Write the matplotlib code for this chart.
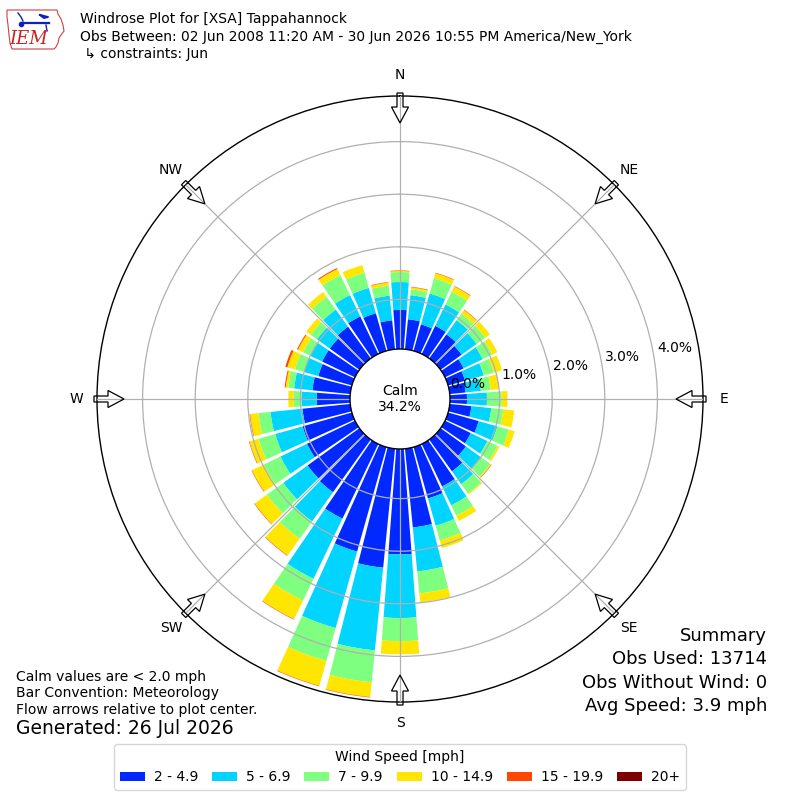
import numpy as np
import matplotlib
matplotlib.use("Agg")
import matplotlib.pyplot as plt
from matplotlib.patches import Circle, FancyArrow, Patch, Polygon

# ---------------- data ----------------
directions = np.arange(0, 360, 10)  # degrees, direction wind blows FROM
speed_labels = ["2 - 4.9", "5 - 6.9", "7 - 9.9", "10 - 14.9", "15 - 19.9", "20+"]
speed_colors = ["#0028ff", "#00d4ff", "#7fff7f", "#ffe600", "#ff4700", "#7f0000"]

# percent of observations per 10 degree bin, one list per speed class
pct_2_5 = [0.80, 0.63, 0.58, 0.65, 0.62, 0.55, 0.45, 0.39, 0.36, 0.38, 0.47, 0.66,
           0.60, 0.65, 0.80, 0.95, 1.07, 1.56, 2.06, 2.33, 2.12, 1.63, 1.29, 1.27,
           1.07, 1.03, 0.97, 0.69, 0.78, 0.72, 0.75, 0.75, 0.80, 0.85, 0.80, 0.61]
pct_5_7 = [0.53, 0.46, 0.61, 0.45, 0.33, 0.35, 0.40, 0.37, 0.29, 0.38, 0.38, 0.37,
           0.35, 0.35, 0.30, 0.40, 0.54, 0.84, 1.21, 1.58, 1.51, 1.27, 0.68, 0.57,
           0.56, 0.54, 0.61, 0.29, 0.35, 0.28, 0.25, 0.30, 0.40, 0.45, 0.50, 0.47]
pct_7_10 = [0.19, 0.11, 0.30, 0.27, 0.15, 0.20, 0.20, 0.20, 0.19, 0.28, 0.23, 0.23,
            0.21, 0.22, 0.22, 0.22, 0.29, 0.42, 0.44, 0.61, 0.65, 0.46, 0.41, 0.38,
            0.35, 0.33, 0.23, 0.15, 0.11, 0.18, 0.15, 0.15, 0.30, 0.42, 0.30, 0.19]
pct_10_15 = [0.02, 0.04, 0.10, 0.11, 0.09, 0.11, 0.11, 0.16, 0.16, 0.11, 0.21, 0.11,
             0.04, 0.02, 0.02, 0.11, 0.15, 0.17, 0.25, 0.28, 0.49, 0.39, 0.39, 0.29,
             0.25, 0.18, 0.16, 0.10, 0.05, 0.15, 0.11, 0.10, 0.11, 0.13, 0.15, 0.06]
pct_15_20 = [0.01, 0.01, 0.01, 0.01, 0.01, 0.00, 0.00, 0.00, 0.00, 0.00, 0.00, 0.00,
             0.00, 0.01, 0.00, 0.00, 0.00, 0.00, 0.00, 0.01, 0.01, 0.01, 0.01, 0.01,
             0.01, 0.01, 0.01, 0.00, 0.02, 0.04, 0.02, 0.00, 0.00, 0.02, 0.00, 0.01]
pct_20p = [0.0] * 36

calm_pct = 34.2
rticks = [0, 1, 2, 3, 4]
compass_labels = ["N", "NE", "E", "SE", "S", "SW", "W", "NW"]

title_lines = ["Windrose Plot for [XSA] Tappahannock",
               "Obs Between: 02 Jun 2008 11:20 AM - 30 Jun 2026 10:55 PM America/New_York",
               " \u21b3 constraints: Jun"]
notes = ["Calm values are < 2.0 mph", "Bar Convention: Meteorology",
         "Flow arrows relative to plot center."]
generated = "Generated: 26 Jul 2026"
summary = ["Summary", "Obs Used: 13714", "Obs Without Wind: 0", "Avg Speed: 3.9 mph"]

# ---------------- figure ----------------
W, H = 800, 800
fig = plt.figure(figsize=(8, 8), dpi=100)

cx, cy, R = 400, 399, 303  # pixel centre / radius of the rose
ax = fig.add_axes([(cx - R) / W, (H - cy - R) / H, 2 * R / W, 2 * R / H],
                  projection="polar")
ax.set_theta_zero_location("N")
ax.set_theta_direction(-1)
ax.set_ylim(0, 4.867)
ax.set_rorigin(-0.8935)

series = [pct_2_5, pct_5_7, pct_7_10, pct_10_15, pct_15_20, pct_20p]
theta = np.deg2rad(directions)
bottom = np.zeros(len(directions))
for vals, col in zip(series, speed_colors):
    vals = np.asarray(vals, dtype=float)
    ax.bar(theta, vals, width=np.deg2rad(8.6), bottom=bottom, color=col,
           edgecolor="none", linewidth=0, zorder=1)
    bottom += vals

ax.set_xticks(np.deg2rad(np.arange(0, 360, 45)))
ax.set_xticklabels([])
ax.set_yticks(rticks[1:])
ax.set_yticklabels([])
ax.tick_params(length=0)
ax.set_axisbelow(False)
ax.grid(True, color="#b0b0b0", linewidth=0.9)
ax.spines["polar"].set_linewidth(1.0)
ax.spines["polar"].set_color("black")

# radial labels
for v in rticks:
    ax.annotate(f"{v:.1f}%", xy=(np.deg2rad(80), v), xytext=(2.5, 1.7),
                textcoords="offset points", ha="left", va="baseline",
                fontsize=10, zorder=7, annotation_clip=False)

# calm circle
ax.add_patch(Circle((0.5, 0.5), 50 / (2 * R), transform=ax.transAxes,
                    facecolor="white", edgecolor="black", linewidth=1.0,
                    zorder=4, clip_on=False))
ax.text(0.5, 0.5, f"Calm\n{calm_pct:.1f}%", transform=ax.transAxes,
        ha="center", va="center", fontsize=10, zorder=6)

# compass labels and flow arrows
px = 1.0 / (2 * R)
for i, name in enumerate(compass_labels):
    a = np.deg2rad(i * 45)
    s, c = np.sin(a), np.cos(a)
    ax.text(0.5 + 324 * px * s, 0.5 + 324 * px * c, name, transform=ax.transAxes,
            ha="center", va="center", fontsize=10, clip_on=False)
    rt, rh = 306 * px, 276 * px
    ax.add_patch(FancyArrow(0.5 + rt * s, 0.5 + rt * c, -(rt - rh) * s, -(rt - rh) * c,
                            width=6 * px, head_width=17 * px, head_length=16 * px,
                            length_includes_head=True, transform=ax.transAxes,
                            facecolor="none", edgecolor="black", linewidth=0.9,
                            clip_on=False, zorder=8))

# ---------------- overlay for logo ----------------
ov = fig.add_axes([0, 0, 1, 1], zorder=-1)
ov.set_xlim(0, W)
ov.set_ylim(H, 0)
ov.axis("off")
iowa = [(7, 10), (57, 10), (58, 14), (61, 19), (63, 25), (64, 31), (61, 35),
        (59, 38), (58, 43), (56, 47), (54, 49), (12, 49), (10, 43), (9, 35),
        (8, 25), (7, 17)]
ov.add_patch(Polygon(iowa, closed=True, fill=False, edgecolor="#d04040", linewidth=0.8))
ov.plot([21, 49], [23, 23], color="#1020c0", lw=1.6)
ov.plot([40, 44, 48, 40], [15, 18, 17, 15], color="#1020c0", lw=1.4)
ov.plot([18, 21, 23], [13, 17, 21], color="#1020c0", lw=1.0)
ov.plot([46, 47], [25, 31], color="#1020c0", lw=1.0)
ov.plot([21], [24], "o", color="#1020c0", ms=3)
ov.text(29, 39, "IEM", color="#d02020", fontsize=13, style="italic",
        family="DejaVu Serif", ha="center", va="center")

# ---------------- texts ----------------
for txt, y in zip(title_lines, [19, 37, 54]):
    fig.text(80 / W, 1 - y / H, txt, ha="left", va="center", fontsize=10)
for txt, y in zip(notes, [677, 693, 710]):
    fig.text(16 / W, 1 - y / H, txt, ha="left", va="center", fontsize=10)
fig.text(16 / W, 1 - 729 / H, generated, ha="left", va="center", fontsize=13.5)
for txt, y in zip(summary, [636, 659, 683, 706]):
    fig.text(767 / W, 1 - y / H, txt, ha="right", va="center", fontsize=13)

handles = [Patch(facecolor=c, edgecolor="none") for c in speed_colors]
fig.legend(handles, speed_labels, loc="lower center", bbox_to_anchor=(0.5, 10 / H),
           borderaxespad=0, ncol=6, title="Wind Speed [mph]", fontsize=10,
           title_fontsize=10, columnspacing=1.0, handletextpad=0.65, handlelength=1.8)

fig.savefig("out.png", dpi=100)
